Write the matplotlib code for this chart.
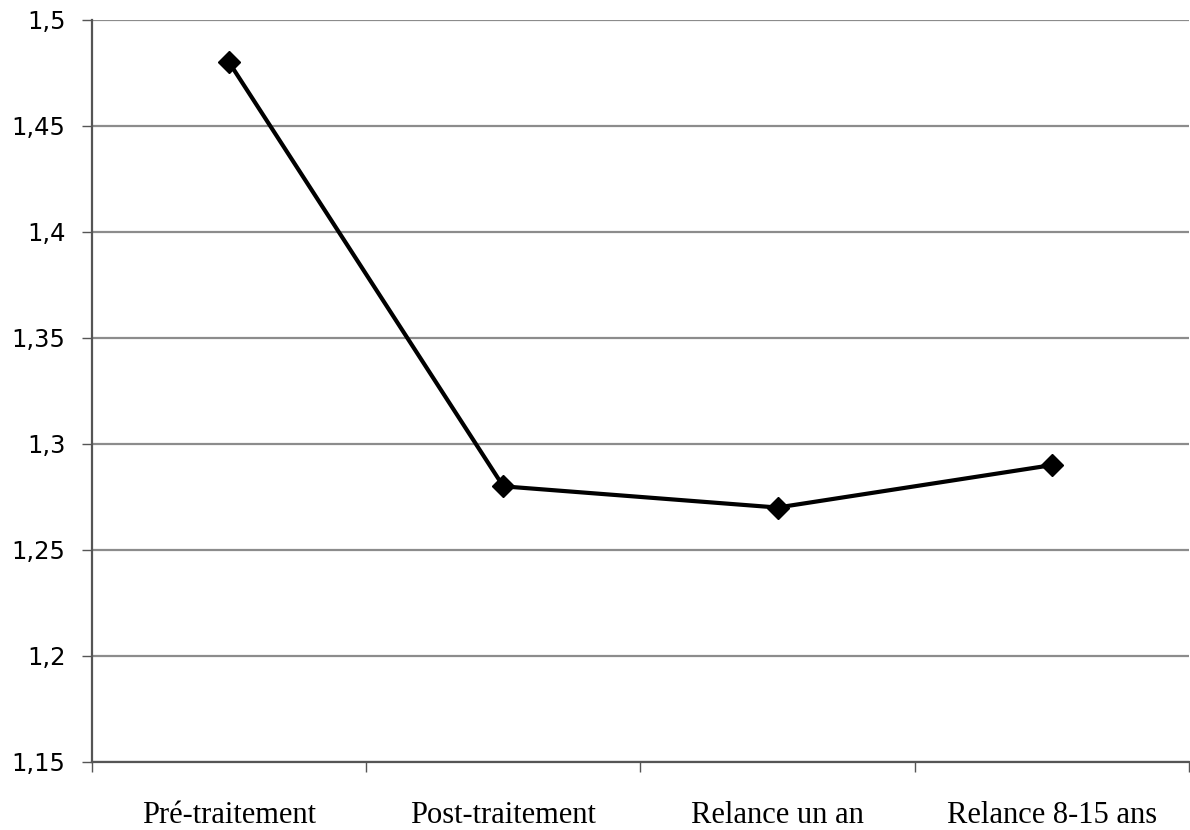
import matplotlib
matplotlib.use("Agg")
import matplotlib.pyplot as plt
from matplotlib.ticker import MultipleLocator, FuncFormatter

categories = ["Pré-traitement", "Post-traitement", "Relance un an", "Relance 8-15 ans"]
values = [1.48, 1.28, 1.27, 1.29]

fig = plt.figure(figsize=(11.9, 8.3), dpi=100)
ax = fig.add_axes([0.0773, 0.082, 0.9217, 0.894])

x = list(range(len(categories)))
ax.plot(x, values, color="black", linewidth=3, marker="D", markersize=11, zorder=3)

ax.set_xlim(-0.5, len(categories) - 0.5)
ax.set_ylim(1.15, 1.5)

# y axis: comma decimals, gray gridlines
ax.yaxis.set_major_locator(MultipleLocator(0.05))
ax.yaxis.set_major_formatter(FuncFormatter(lambda v, p: ("%g" % round(v, 2)).replace(".", ",")))
ax.grid(axis="y", color="#8c8c8c", linewidth=1.6, zorder=0)
ax.tick_params(axis="y", length=7, width=1, color="#555555", labelsize=17.5, pad=12)
for lab in ax.get_yticklabels():
    lab.set_family("DejaVu Sans")

# x axis: category labels centered, ticks on boundaries
ax.set_xticks([i - 0.5 for i in range(len(categories) + 1)])
ax.set_xticklabels([])
ax.set_xticks(x, minor=True)
ax.set_xticklabels(categories, minor=True, family="Liberation Serif", fontsize=22)
ax.tick_params(axis="x", which="major", length=7, width=1, color="#555555")
ax.tick_params(axis="x", which="minor", length=0, pad=28)

for side in ["top", "right"]:
    ax.spines[side].set_visible(False)
for side in ["left", "bottom"]:
    ax.spines[side].set_color("#555555")
    ax.spines[side].set_linewidth(1.6)

fig.savefig("out.png", dpi=100)
